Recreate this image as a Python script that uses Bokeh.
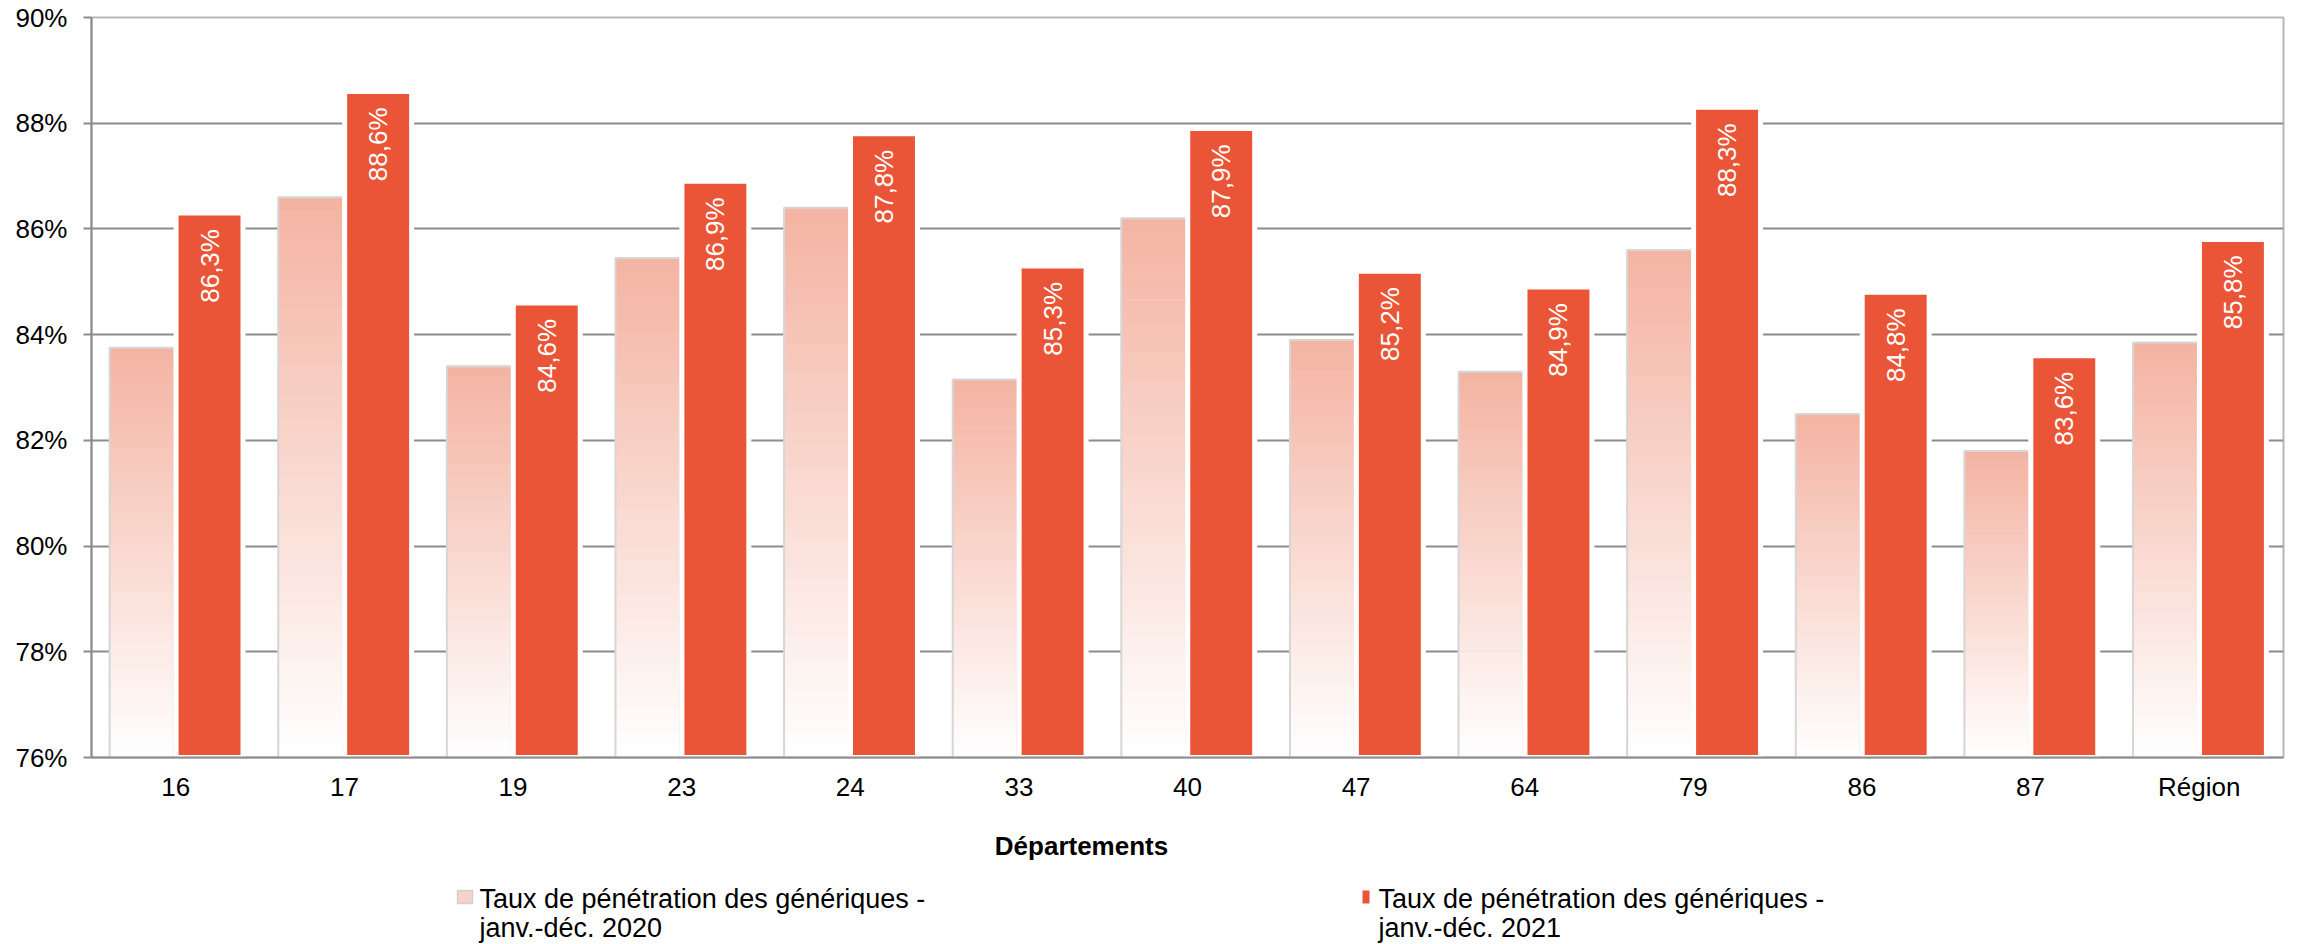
import numpy as np
from bokeh.plotting import figure
from bokeh.models import (FactorRange, Range1d, ColumnDataSource,
                          PrintfTickFormatter, FixedTicker)
from bokeh.transform import dodge
from bokeh.layouts import column
from bokeh.core.properties import value
from bokeh.embed import file_html
from bokeh.resources import INLINE

# ---------------- data ----------------
departements = ["16", "17", "19", "23", "24", "33", "40", "47", "64", "79", "86", "87", "Région"]
taux_2020 = [83.75, 86.6, 83.4, 85.45, 86.4, 83.15, 86.2, 83.9, 83.3, 85.6, 82.5, 81.8, 83.85]
taux_2021 = [86.3, 88.6, 84.6, 86.9, 87.8, 85.3, 87.9, 85.2, 84.9, 88.3, 84.8, 83.6, 85.8]
serie_2020 = ["Taux de pénétration des génériques -", "janv.-déc. 2020"]
serie_2021 = ["Taux de pénétration des génériques -", "janv.-déc. 2021"]
y_ticks = [76, 78, 80, 82, 84, 86, 88, 90]
x_title = "Départements"

FONT = "Liberation Sans"
RED = "#E95536"
PINK_TOP = (244, 179, 162)
Y0, Y1 = 76, 90

BL, BR = 91, 15
W = 2298
H_TOP, H_BOT = 820, 124

# ---------------- main chart ----------------
p = figure(width=W, height=H_TOP, output_backend="svg", toolbar_location=None, title=None,
           x_range=FactorRange(*departements), y_range=Range1d(Y0, Y1),
           min_border_left=BL, min_border_right=BR, min_border_top=17, min_border_bottom=63)
p.x_range.range_padding = 0
p.background_fill_color = "white"
p.border_fill_color = "white"
p.outline_line_color = "#B8B8B8"
p.outline_line_width = 2

# gradient-filled 2020 bars (sliced per bar)
N = 40
gx, gb, gt, gc = [], [], [], []
for dep, v in zip(departements, taux_2020):
    for k in range(N):
        b = Y0 + (v - Y0) * k / N
        t = Y0 + (v - Y0) * (k + 1) / N
        f = (k + 0.5) / N
        rgb = tuple(int(round(255 + (c - 255) * f)) for c in PINK_TOP)
        gx.append(dep)
        gb.append(b)
        gt.append(t)
        gc.append("#%02x%02x%02x" % rgb)
grad_src = ColumnDataSource(dict(dep=gx, bottom=gb, top=gt, color=gc))
p.vbar(x=dodge("dep", -0.2, range=p.x_range), bottom="bottom", top="top", width=0.385,
       fill_color="color", line_color="color", line_width=0.6, source=grad_src)

src = ColumnDataSource(dict(
    dep=departements, v2020=taux_2020, v2021=taux_2021,
    label=[("%.1f" % v).replace(".", ",") + "%" for v in taux_2021],
))
p.vbar(x=dodge("dep", -0.2, range=p.x_range), bottom=Y0, top="v2020", width=0.385,
       fill_color=None, line_color="#D6D6D6", line_width=2, source=src)
p.vbar(x=dodge("dep", 0.2, range=p.x_range), bottom=Y0, top="v2021", width=0.397,
       fill_color=RED, line_color="white", line_width=5, source=src)

p.text(x=dodge("dep", 0.2, range=p.x_range), y="v2021", text="label", source=src,
       angle=np.pi / 2, text_align="right", text_baseline="middle", y_offset=16,
       text_color="white", text_font=value(FONT), text_font_size="26px")

# axes / grid
p.xgrid.grid_line_color = None
p.ygrid.grid_line_color = "#8C8C8C"
p.ygrid.grid_line_width = 2
p.yaxis.ticker = FixedTicker(ticks=y_ticks)
p.yaxis.formatter = PrintfTickFormatter(format="%d%%")
for ax in (p.xaxis[0], p.yaxis[0]):
    ax.axis_line_color = "#8C8C8C"
    ax.axis_line_width = 2
    ax.major_tick_line_color = "#8C8C8C"
    ax.major_tick_line_width = 2
    ax.minor_tick_line_color = None
    ax.major_label_text_font = FONT
    ax.major_label_text_font_size = "26px"
    ax.major_label_text_color = "black"
p.yaxis.major_tick_out = 8
p.yaxis.major_tick_in = 0
p.yaxis.major_label_standoff = 16
p.xaxis.major_tick_out = 0
p.xaxis.major_tick_in = 0
p.xaxis.major_label_standoff = 14

# ---------------- axis title + legend (panel below, page-pixel coordinates) ----------------
q = figure(width=W, height=H_BOT, output_backend="svg", toolbar_location=None, title=None,
           x_range=Range1d(BL, W - BR), y_range=Range1d(H_TOP + H_BOT, H_TOP),
           x_axis_type=None, y_axis_type=None,
           min_border_left=BL, min_border_right=BR, min_border_top=0, min_border_bottom=0)
q.outline_line_color = None
q.grid.visible = False
q.background_fill_color = "white"
q.border_fill_color = "white"

q.text(x=[1081], y=[845], text=[x_title], text_align="center", text_baseline="alphabetic",
       text_font=value(FONT), text_font_style="bold", text_font_size="26px", text_color="black")

q.quad(left=[457], right=[472], top=[890], bottom=[903], fill_color="#F8D2C8",
       line_color="#D0D0D0", line_width=1.5)
q.quad(left=[1362], right=[1369], top=[890], bottom=[903], fill_color=RED, line_color=None)

leg_x = [479, 479, 1378, 1378]
leg_y = [898, 927, 898, 927]
leg_t = [serie_2020[0], serie_2020[1], serie_2021[0], serie_2021[1]]
q.text(x=leg_x, y=leg_y, text=leg_t, text_align="left", text_baseline="alphabetic",
       text_font=value(FONT), text_font_size="27px", text_color="black")

layout = column(p, q, spacing=0)
open("out.html", "w").write(file_html(layout, INLINE))
